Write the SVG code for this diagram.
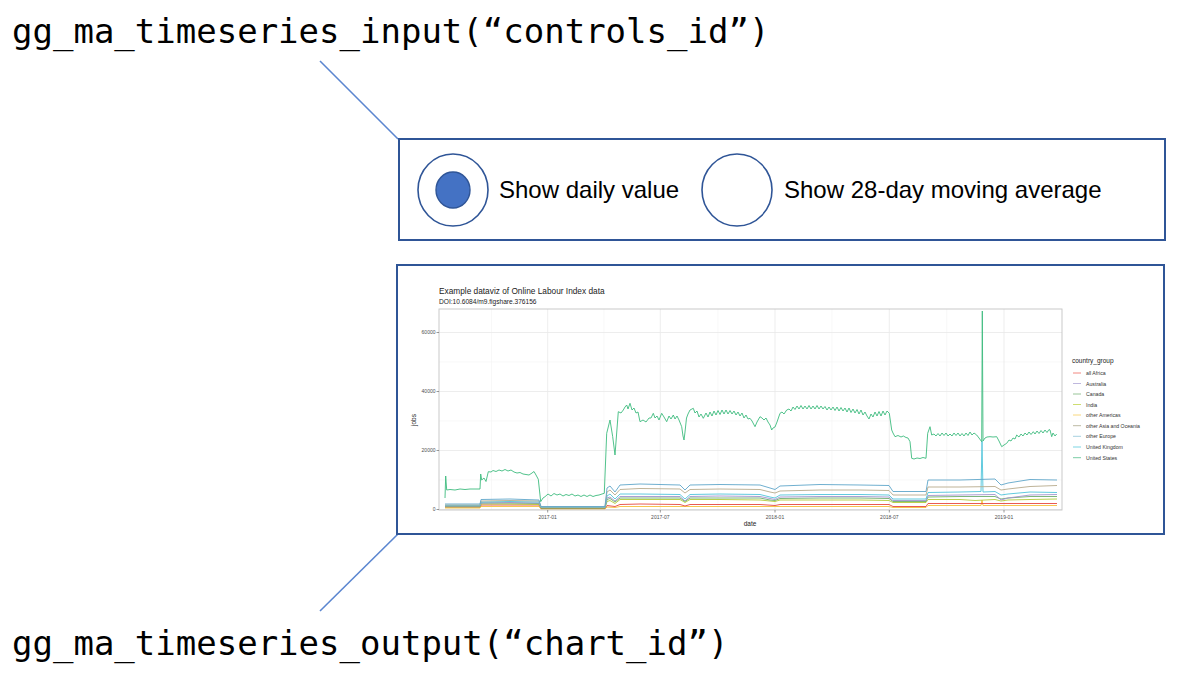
<svg xmlns="http://www.w3.org/2000/svg" width="1184" height="680" viewBox="0 0 1184 680">
<style>
.code{font-family:"DejaVu Sans Mono","Liberation Mono",monospace;font-size:34px;fill:#000}
.lbl{font-family:"Liberation Sans",Arial,sans-serif;font-size:24px;fill:#000}
.box{fill:#fff;stroke:#2F5597;stroke-width:2}
.conn{stroke:#5B86D0;stroke-width:1.6;fill:none}
.radio{fill:#fff;stroke:#2F5597;stroke-width:1.6}
.dot{fill:#4472C4;stroke:#2F5597;stroke-width:1.4}
.ax{font-family:"Liberation Sans",Arial,sans-serif;font-size:5px;fill:#4D4D4D}
.axt{font-family:"Liberation Sans",Arial,sans-serif;font-size:6.5px;fill:#222}
.leg{font-family:"Liberation Sans",Arial,sans-serif;font-size:5.2px;fill:#333}
.gmin{stroke:#F4F4F4;stroke-width:0.6}
.gmaj{stroke:#E9E9E9;stroke-width:0.8}
.tick{stroke:#555;stroke-width:0.6}
.s{fill:none;stroke-width:0.9;stroke-linejoin:round}
</style>

<g id="connectors">
<line class="conn" x1="320" y1="61" x2="398" y2="139"/>
<line class="conn" x1="398" y1="534" x2="320" y2="611"/>
</g>

<g id="input-label">
<text class="code" x="12" y="43">gg_ma_timeseries_input(“controls_id”)</text>
</g>

<g id="output-label">
<text class="code" x="12" y="655">gg_ma_timeseries_output(“chart_id”)</text>
</g>

<g id="controls">
<rect class="box" x="399" y="139" width="766" height="101"/>
<ellipse class="radio" cx="453" cy="190" rx="35" ry="36"/>
<ellipse class="dot" cx="453" cy="190" rx="17" ry="18"/>
<text class="lbl" x="499" y="198">Show daily value</text>
<ellipse class="radio" cx="737" cy="190" rx="35" ry="36"/>
<text class="lbl" x="784" y="198">Show 28-day moving average</text>
</g>

<g id="chart">
<rect class="box" x="397" y="265" width="767" height="269"/>
<text x="439" y="294" style="font-family:'Liberation Sans',Arial,sans-serif;font-size:8.3px;fill:#222">Example dataviz of Online Labour Index data</text>
<text x="439" y="304" style="font-family:'Liberation Sans',Arial,sans-serif;font-size:6.6px;fill:#222">DOI:10.6084/m9.figshare.376156</text>
<rect x="439" y="309" width="623" height="201" fill="#fff"/>
<g>
<line class="gmin" x1="439" y1="480" x2="1062" y2="480"/>
<line class="gmin" x1="439" y1="421" x2="1062" y2="421"/>
<line class="gmin" x1="439" y1="362" x2="1062" y2="362"/>
<line class="gmin" x1="491.5" y1="309" x2="491.5" y2="510"/>
<line class="gmin" x1="604" y1="309" x2="604" y2="510"/>
<line class="gmin" x1="718" y1="309" x2="718" y2="510"/>
<line class="gmin" x1="832" y1="309" x2="832" y2="510"/>
<line class="gmin" x1="946.7" y1="309" x2="946.7" y2="510"/>
<line class="gmaj" x1="439" y1="509.5" x2="1062" y2="509.5"/>
<line class="gmaj" x1="439" y1="450.5" x2="1062" y2="450.5"/>
<line class="gmaj" x1="439" y1="391.5" x2="1062" y2="391.5"/>
<line class="gmaj" x1="439" y1="332.5" x2="1062" y2="332.5"/>
<line class="gmaj" x1="547.7" y1="309" x2="547.7" y2="510"/>
<line class="gmaj" x1="660.3" y1="309" x2="660.3" y2="510"/>
<line class="gmaj" x1="775" y1="309" x2="775" y2="510"/>
<line class="gmaj" x1="889.3" y1="309" x2="889.3" y2="510"/>
<line class="gmaj" x1="1004" y1="309" x2="1004" y2="510"/>
</g>
<g>
<polyline class="s" stroke="#F5BE3C" points="445,508 480,508 481,506.5 539,506.5 541,509 605,509 607,507 615,507.5 620,506.5 700,506.5 889,506.5 893,507.5 926,507.5 928,505.5 981,505.5 982,500 983,505.5 1057,505.5"/>
<polyline class="s" stroke="#E8473F" points="445,507 480,507 481,505 539,505 541,508.5 605,508.5 607,505.5 615,506.5 620,504.5 640,504 680,504.5 685,506 690,504.5 760,504.5 775,505.5 780,504.5 860,504.5 889,504.5 893,506.5 926,506.5 928,503.5 1000,503.5 1057,503.5"/>
<polyline class="s" stroke="#B2CB3A" points="445,507 480,507 481,504 510,504 539,504.5 541,508 605,508 607,501.5 610,500.5 615,503.5 620,499.5 640,499.5 680,499.5 685,502.5 690,499.5 720,499.5 760,500 770,501 775,501.5 780,500 820,500 860,500 889,500.5 893,502.5 926,502.5 928,499.5 960,499.5 975,500.5 995,499.5 1001,501 1008,500 1030,499.5 1057,499"/>
<polyline class="s" stroke="#6DAE6D" points="445,506.5 480,506.5 481,503 510,503 539,503.5 541,508 605,508 607,499.5 610,498.5 615,502 620,498 640,498 680,498 685,501.5 690,498 720,498 760,498 770,500 775,500.5 780,498.5 820,498 860,498 889,498.5 893,501.5 926,501.5 928,497 960,496.5 995,496.5 1001,499 1008,498 1030,496.5 1057,496.5"/>
<polyline class="s" stroke="#A394CF" points="445,506 480,506 481,503 510,502.5 539,503 541,507.5 605,507.5 607,498 610,497 615,501 620,496.5 640,496.5 680,496.5 685,501 690,496.5 720,496 760,496.5 770,498.5 775,499.5 780,497 820,496.5 860,496.5 889,497 893,500.5 926,500.5 928,495.5 960,495 995,494.5 1001,500 1008,498 1030,495 1057,494.5"/>
<polyline class="s" stroke="#4FC4DA" points="445,505.5 480,505.5 481,502 510,501.5 539,502 541,507.5 605,507.5 607,496 610,494 615,499 620,494 640,494 680,494.5 685,499 690,494.5 720,494 760,494.5 770,497 775,498 780,495 820,494.5 860,494.5 889,495 893,499 926,499 928,492.5 960,492 981,491.5 982,441 983,492 995,491.5 1001,495 1008,494 1030,492 1057,492.5"/>
<polyline class="s" stroke="#B7AA8C" points="445,505 480,505 481,501 510,500.5 539,501 541,507 605,507 607,492 610,490 615,495 620,489.5 640,488.5 680,489 685,493 690,489.5 720,489 760,489.5 770,492 775,493 780,491 820,490 860,490 889,490.5 893,495 926,495 928,487 960,487 995,486.5 1001,490 1008,489 1030,486.5 1057,485.5"/>
<polyline class="s" stroke="#5FA6C9" points="445,504 480,504 481,499.5 510,499 539,500 541,506.5 605,506.5 607,488 610,486 615,492 620,485 640,484 680,485 685,490 690,485 720,484.5 760,485 770,488 775,489.5 780,486 820,484.5 860,485 889,485.5 893,491.5 926,491.5 928,480 960,480 995,479 1001,485 1008,483 1030,479.5 1057,480"/>
<polyline class="s" stroke="#3DBB7E" points="445,498 445.7,476 446.7,490 450,489.5 455,490 460,489 465,489.5 470,489 475,489 480,489 480.7,474 481.7,480 484,478 486,481.5 488.3,471.7 491,472 493,470.5 496,471.5 499,470 502,471 505,469.5 508,471 511,470 514,472 517,473 520,472.5 523,474 526,474.5 529,475 532,473 534,471.5 536,475 538.3,479.3 540.7,501.7 543,498 545,496.7 548,494 551,496 554,493.5 557,495 560,494 563,496 566,494.5 569,495.5 572,494 575,496 578,495 581,496.5 584,495 587,496.5 590,495 593,496.5 596,495.5 599,495 602,494 604.3,493.3 606.7,433.3 610,420 612.7,436.7 615,455 618.3,411.7 621,413 623.3,410 625,407 626.7,405 628,409 630,403.3 632,410 634,408 636,413 638,412 640,421.7 643,420 646,422 649,418 651,418 653.3,413.3 655,418 657,416 659,420 661.7,413.3 664,417 666.7,421.7 669,416 671,419 673.3,415 675,419 677,416 679,420 681.7,426.7 683,436 684,440 685,432 686.5,418 688,414 690,410 693.3,408.3 695,413 697,411 699,417 701,414 703.3,418.3 706,413 708,417 710,412 712,416 714,411 716,415 718,410.5 720,414.5 722,410 724,414 726,410 728,414 730,410.5 732,414 734,411 736,415 738,412 740,416 742,413 744,418 746,415 748,419 750,418.3 752,421 755,426.7 757,422 760,416.7 762,418 764,420 766,418 768,422 770,425 771.7,430 773,428 775,427 777,422 780,413.3 782,412 784,414 786.7,410 789,409 791,411 793,407 795,409.5 797,406 799,409 801,405.5 803,409 805,406 807,409 809,405.5 811,409 813,406 815,409 817,405.5 819,409 821,406 823,409 825,406.5 827,410 829,407 831,410 833,407 835,410.5 837,407 839,411 841,407.5 843,411 845,408 847,412 849,408 851,412.5 853,409 855,413 857,409.5 859,414 861,410 863,415 865,412 867,416 869,419 871,414 873,417 875,412 877,416 879,411.5 881,416 883,411 885,415 887,411 889.3,413.3 891.7,430 893,433 895,436.7 898,435.5 901,437 903.3,436 906,437.5 908,438 910,441.7 911.7,458.3 914,459 917,458 920,458.5 923,457.5 926,458.3 927.7,433.3 930,426.7 931.7,435 934,434 936,436 938,433.5 940,436 942,433 944,435.5 946,433 948,436 950,434 952,436 954,433 956,435.5 958,433 960,436 962,433.5 964,436 966,433 968,435.5 970,432 972,435 974,433 976.7,435 979,438 981.7,441.7 982.3,311 983,441 985,438 987,437 990,436.7 993,437 996.7,436.7 999,441 1001.7,446.7 1004,445 1006.7,443.3 1009,440 1011,441 1013,438 1015,439 1016.7,435 1019,437 1021,434 1023,436 1025,433 1027,435 1029,432 1031,434.5 1033.3,431.7 1035,434 1037,431 1039,433.5 1041,430.5 1043,433 1045,430 1047,432.5 1049,429.5 1050,430 1051.7,436.7 1053,433 1055,436 1056.7,434"/>
</g>
<rect x="439" y="309" width="623" height="201" fill="none" stroke="#C4C4C4" stroke-width="0.9"/>
<g>
<line class="tick" x1="436.5" y1="509.5" x2="439" y2="509.5"/>
<line class="tick" x1="436.5" y1="450.5" x2="439" y2="450.5"/>
<line class="tick" x1="436.5" y1="391.5" x2="439" y2="391.5"/>
<line class="tick" x1="436.5" y1="332.5" x2="439" y2="332.5"/>
<line class="tick" x1="547.7" y1="510" x2="547.7" y2="512.5"/>
<line class="tick" x1="660.3" y1="510" x2="660.3" y2="512.5"/>
<line class="tick" x1="775" y1="510" x2="775" y2="512.5"/>
<line class="tick" x1="889.3" y1="510" x2="889.3" y2="512.5"/>
<line class="tick" x1="1004" y1="510" x2="1004" y2="512.5"/>
</g>
<text class="ax" x="435.5" y="511.3" text-anchor="end">0</text>
<text class="ax" x="435.5" y="452.3" text-anchor="end">20000</text>
<text class="ax" x="435.5" y="393.3" text-anchor="end">40000</text>
<text class="ax" x="435.5" y="334.3" text-anchor="end">60000</text>
<text class="ax" x="547.7" y="518.5" text-anchor="middle">2017-01</text>
<text class="ax" x="660.3" y="518.5" text-anchor="middle">2017-07</text>
<text class="ax" x="775" y="518.5" text-anchor="middle">2018-01</text>
<text class="ax" x="889.3" y="518.5" text-anchor="middle">2018-07</text>
<text class="ax" x="1004" y="518.5" text-anchor="middle">2019-01</text>
<text class="axt" x="750" y="525.5" text-anchor="middle">date</text>
<text class="axt" transform="translate(416,420) rotate(-90)" text-anchor="middle">jobs</text>
<text class="axt" x="1072" y="363">country_group</text>
<g>
<line x1="1073" y1="373" x2="1081" y2="373" stroke="#F07A72" stroke-width="0.9"/>
<line x1="1073" y1="383.5" x2="1081" y2="383.5" stroke="#B8B0DA" stroke-width="0.9"/>
<line x1="1073" y1="394" x2="1081" y2="394" stroke="#8DBE8D" stroke-width="0.9"/>
<line x1="1073" y1="404.5" x2="1081" y2="404.5" stroke="#C8DA60" stroke-width="0.9"/>
<line x1="1073" y1="415" x2="1081" y2="415" stroke="#F8D470" stroke-width="0.9"/>
<line x1="1073" y1="425.7" x2="1081" y2="425.7" stroke="#B5B29A" stroke-width="0.9"/>
<line x1="1073" y1="436.3" x2="1081" y2="436.3" stroke="#9CCCDC" stroke-width="0.9"/>
<line x1="1073" y1="447" x2="1081" y2="447" stroke="#6ED0E0" stroke-width="0.9"/>
<line x1="1073" y1="457.7" x2="1081" y2="457.7" stroke="#6CC79C" stroke-width="0.9"/>
</g>
<text class="leg" x="1086" y="375">all Africa</text>
<text class="leg" x="1086" y="385.5">Australia</text>
<text class="leg" x="1086" y="396">Canada</text>
<text class="leg" x="1086" y="406.5">India</text>
<text class="leg" x="1086" y="417">other Americas</text>
<text class="leg" x="1086" y="427.7">other Asia and Oceania</text>
<text class="leg" x="1086" y="438.3">other Europe</text>
<text class="leg" x="1086" y="449">United Kingdom</text>
<text class="leg" x="1086" y="459.7">United States</text>
</g>
</svg>
